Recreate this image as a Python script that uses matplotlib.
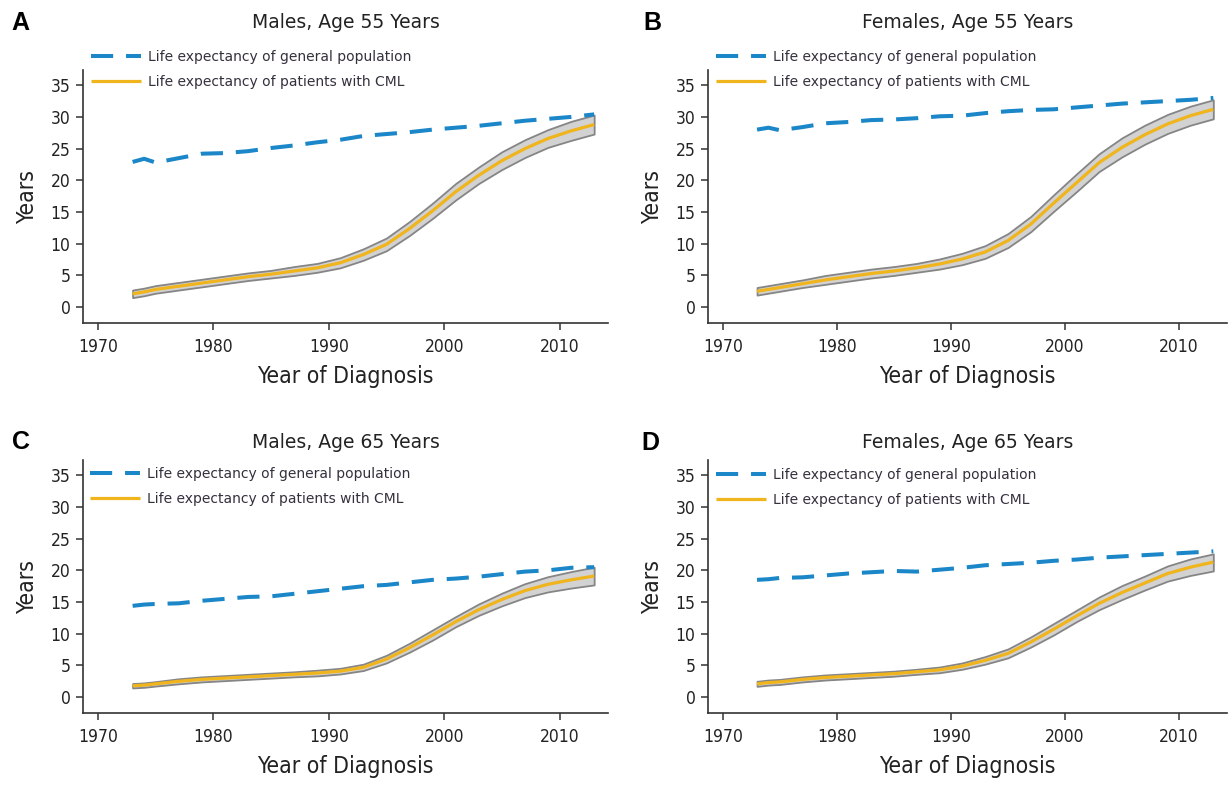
import matplotlib
matplotlib.use("Agg")
import matplotlib.pyplot as plt

# ---- data ---------------------------------------------------------------
YEARS = [1973, 1974, 1975, 1977, 1979, 1981, 1983, 1985, 1987, 1989, 1991,
         1993, 1995, 1997, 1999, 2001, 2003, 2005, 2007, 2009, 2011, 2013]

# A: males, 55
gen_m55 = [22.9, 23.4, 22.8, 23.5, 24.2, 24.3, 24.6, 25.1, 25.5, 26.0, 26.4,
           27.0, 27.3, 27.6, 28.0, 28.3, 28.6, 29.0, 29.4, 29.7, 30.0, 30.4]
cml_m55 = [2.1, 2.4, 2.8, 3.3, 3.8, 4.3, 4.8, 5.2, 5.7, 6.2, 7.0,
           8.3, 9.9, 12.4, 15.2, 18.2, 20.8, 23.1, 25.0, 26.6, 27.8, 28.8]
lo_m55 = [1.5, 1.8, 2.2, 2.7, 3.2, 3.7, 4.2, 4.6, 5.0, 5.5, 6.2,
          7.4, 8.9, 11.3, 14.0, 16.9, 19.5, 21.7, 23.6, 25.2, 26.3, 27.3]
hi_m55 = [2.7, 3.0, 3.4, 3.9, 4.4, 4.9, 5.4, 5.8, 6.4, 6.9, 7.8,
          9.2, 10.9, 13.5, 16.4, 19.5, 22.1, 24.5, 26.4, 28.0, 29.3, 30.3]

# B: females, 55
gen_f55 = [28.0, 28.3, 27.9, 28.4, 29.0, 29.2, 29.5, 29.6, 29.8, 30.1, 30.2,
           30.6, 30.9, 31.1, 31.2, 31.5, 31.8, 32.1, 32.3, 32.5, 32.7, 33.0]
cml_f55 = [2.5, 2.8, 3.1, 3.7, 4.3, 4.8, 5.3, 5.7, 6.2, 6.8, 7.6,
           8.7, 10.5, 13.1, 16.4, 19.6, 22.8, 25.2, 27.2, 28.9, 30.2, 31.2]
lo_f55 = [1.9, 2.2, 2.5, 3.1, 3.6, 4.1, 4.6, 5.0, 5.5, 6.0, 6.7,
          7.7, 9.4, 11.9, 15.1, 18.2, 21.4, 23.7, 25.7, 27.4, 28.7, 29.7]
hi_f55 = [3.1, 3.4, 3.7, 4.3, 5.0, 5.5, 6.0, 6.4, 6.9, 7.6, 8.5,
          9.7, 11.6, 14.3, 17.7, 21.0, 24.2, 26.7, 28.7, 30.4, 31.7, 32.7]

# C: males, 65
gen_m65 = [14.4, 14.6, 14.7, 14.8, 15.2, 15.5, 15.8, 15.9, 16.3, 16.7, 17.1,
           17.5, 17.7, 18.1, 18.5, 18.7, 19.0, 19.4, 19.8, 20.0, 20.4, 20.5]
cml_m65 = [1.8, 1.9, 2.1, 2.5, 2.8, 3.0, 3.2, 3.4, 3.6, 3.8, 4.1,
           4.7, 6.0, 7.8, 9.8, 11.9, 13.8, 15.4, 16.8, 17.8, 18.5, 19.1]
lo_m65 = [1.45, 1.55, 1.75, 2.1, 2.4, 2.6, 2.8, 3.0, 3.2, 3.35, 3.65,
          4.2, 5.4, 7.1, 9.0, 11.1, 12.9, 14.4, 15.7, 16.6, 17.2, 17.7]
hi_m65 = [2.15, 2.25, 2.45, 2.9, 3.2, 3.4, 3.6, 3.8, 4.0, 4.25, 4.55,
          5.2, 6.6, 8.5, 10.6, 12.7, 14.7, 16.4, 17.9, 19.0, 19.8, 20.5]

# D: females, 65
gen_f65 = [18.5, 18.6, 18.8, 18.9, 19.2, 19.5, 19.7, 19.9, 19.8, 20.1, 20.4,
           20.8, 21.0, 21.2, 21.5, 21.7, 22.0, 22.2, 22.4, 22.6, 22.8, 23.0]
cml_f65 = [2.1, 2.3, 2.4, 2.8, 3.1, 3.3, 3.5, 3.7, 4.0, 4.3, 4.9,
           5.8, 6.9, 8.7, 10.7, 12.8, 14.8, 16.5, 18.0, 19.5, 20.5, 21.3]
lo_f65 = [1.7, 1.9, 2.0, 2.4, 2.7, 2.9, 3.1, 3.3, 3.6, 3.85, 4.4,
          5.2, 6.2, 7.9, 9.8, 11.9, 13.8, 15.4, 16.9, 18.3, 19.2, 19.9]
hi_f65 = [2.5, 2.7, 2.8, 3.2, 3.5, 3.7, 3.9, 4.1, 4.4, 4.75, 5.4,
          6.4, 7.6, 9.5, 11.6, 13.7, 15.8, 17.6, 19.1, 20.7, 21.8, 22.6]

PANELS = [
    ("A", "Males, Age 55 Years",   gen_m55, cml_m55, lo_m55, hi_m55),
    ("B", "Females, Age 55 Years", gen_f55, cml_f55, lo_f55, hi_f55),
    ("C", "Males, Age 65 Years",   gen_m65, cml_m65, lo_m65, hi_m65),
    ("D", "Females, Age 65 Years", gen_f65, cml_f65, lo_f65, hi_f65),
]
X_TICKS = [1970, 1980, 1990, 2000, 2010]
Y_TICKS = [0, 5, 10, 15, 20, 25, 30, 35]

LBL_GEN = "Life expectancy of general population"
LBL_CML = "Life expectancy of patients with CML"

# ---- style ---------------------------------------------------------------
BLUE = '#1b87c8'
GOLD = '#f0b41c'
BAND = '#d2d2d2'
BAND_EDGE = '#858585'
AXC = '#333333'
TXT = '#222222'

W, H = 1231, 786
fig = plt.figure(figsize=(W / 100, H / 100), dpi=100)
fig.patch.set_facecolor('white')

# axes boxes in pixels: left, right, top, bottom
boxes = [(83, 608, 70, 323), (708, 1227, 70, 323),
         (83, 608, 460, 713), (708, 1227, 460, 713)]
legend_anchor = [(91, 50), (716, 50), (90, 467), (716, 468)]
title_y = [23, 23, 442, 443]
letter_x = [11, 643, 12, 641]


def px(x, y):
    return x / W, 1 - y / H


for i, (letter, title, gen, cml, lo, hi) in enumerate(PANELS):
    l, r, t, b = boxes[i]
    ax = fig.add_axes([l / W, 1 - b / H, (r - l) / W, (b - t) / H])

    ax.fill_between(YEARS, lo, hi, facecolor=BAND, edgecolor=BAND_EDGE,
                    lw=1.3, zorder=2)
    ax.plot(YEARS, cml, color=GOLD, lw=2.3, zorder=3, label=LBL_CML,
            solid_capstyle='butt')
    ax.plot(YEARS, gen, color=BLUE, lw=2.9, ls=(0, (5.5, 3.2)), zorder=4,
            label=LBL_GEN, dash_capstyle='butt')

    ax.set_xlim(1968.7, 2014.2)
    ax.set_ylim(-2.5, 37.4)
    ax.set_xticks(X_TICKS)
    ax.set_yticks(Y_TICKS)
    for s in ['top', 'right']:
        ax.spines[s].set_visible(False)
    for s in ['left', 'bottom']:
        ax.spines[s].set_color(AXC)
        ax.spines[s].set_linewidth(1.2)
    ax.tick_params(axis='both', direction='out', length=5, width=1.1,
                   color=AXC, labelsize=12.5, labelcolor=TXT)
    ax.tick_params(axis='x', pad=6)
    ax.tick_params(axis='y', pad=4)
    for lab in ax.get_xticklabels() + ax.get_yticklabels():
        lab.set_fontstretch('condensed')

    ax.set_xlabel("Year of Diagnosis", fontsize=16.5, fontstretch='condensed',
                  color=TXT, labelpad=6)
    ax.set_ylabel("Years", fontsize=16.5, fontstretch='condensed', color=TXT,
                  labelpad=8)

    h, lbl = ax.get_legend_handles_labels()
    ax.legend(h[::-1], lbl[::-1], loc='upper left',
              bbox_to_anchor=px(*legend_anchor[i]),
              bbox_transform=fig.transFigure, frameon=False,
              borderpad=0, borderaxespad=0, handlelength=3.6,
              handletextpad=0.5, labelspacing=0.8,
              prop={'family': 'DejaVu Sans', 'size': 10},
              labelcolor='#35303d')

    cx = (l + r) / 2
    fig.text(*px(cx, title_y[i]), title, ha='center', va='center',
             fontsize=13.5, color=TXT)
    fig.text(*px(letter_x[i], title_y[i]), letter, ha='left', va='center',
             fontsize=18, fontweight='bold', family='Liberation Sans',
             color='black')

fig.savefig('out.png', dpi=100, facecolor='white')
